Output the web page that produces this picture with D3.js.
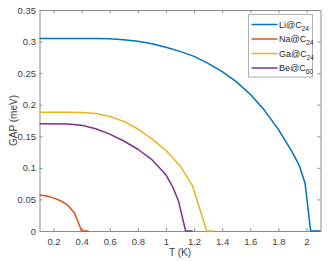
<!DOCTYPE html>
<html><head><meta charset="utf-8">
<script src="https://cdn.jsdelivr.net/npm/d3@7"></script>
<style>
html,body{margin:0;padding:0;background:#fff;}
text{font-family:"Liberation Sans",Arial,sans-serif;}
</style></head>
<body><svg id="c" width="328" height="261"></svg>
<script>
const names = ["Li@C", "Na@C", "Ga@C", "Be@C"];
const subs = ["24", "24", "24", "60"];
const colors = ["#0072BD", "#D95319", "#EDB120", "#7E2F8E"];
const liT = [0.1,0.2,0.3,0.4,0.5,0.6,0.7,0.8,0.9,1.0,1.1,1.2,1.3,1.4,1.5,1.6,1.7,1.8,1.9,1.95,1.99,2.03,2.1];
const liG = [0.305,0.305,0.305,0.305,0.305,0.3045,0.303,0.3005,0.2965,0.291,0.2845,0.2765,0.2655,0.2525,0.2365,0.2165,0.1915,0.161,0.1245,0.103,0.0755,0,0];
const naT = [0.1,0.15,0.2,0.25,0.3,0.35,0.4,0.45];
const naG = [0.057,0.0555,0.0525,0.048,0.041,0.028,0,0];
const gaT = [0.1,0.3,0.4,0.5,0.6,0.7,0.8,0.9,1.0,1.1,1.19,1.29,1.34];
const gaG = [0.188,0.188,0.1875,0.186,0.1815,0.1735,0.1615,0.146,0.1275,0.1035,0.071,0,0];
const beT = [0.1,0.3,0.4,0.5,0.6,0.7,0.8,0.9,1.0,1.05,1.09,1.14,1.19];
const beG = [0.17,0.1695,0.1675,0.162,0.1535,0.1425,0.1295,0.113,0.089,0.069,0.047,0,0];
const xTicks = [0.2,0.4,0.6,0.8,1,1.2,1.4,1.6,1.8,2];
const yTicks = [0,0.05,0.1,0.15,0.2,0.25,0.3,0.35];

const series = [[liT,liG],[naT,naG],[gaT,gaG],[beT,beG]];
const L=39.5, R=320.5, T=10, B=231;
const svg = d3.select("#c");
const x = d3.scaleLinear().domain([0.1,2.1]).range([L,R]);
const y = d3.scaleLinear().domain([0,0.35]).range([B,T]);
const fmt = d => String(+d.toFixed(2));

function style(g, hideLabels){
  g.select(".domain").attr("stroke","#8c8c8c").attr("stroke-width",1);
  g.selectAll(".tick line").attr("stroke","#8c8c8c");
  g.selectAll(".tick text").attr("fill","#404040").style("font-size","9.5px").style("font-family","'Liberation Sans',Arial,sans-serif");
  if(hideLabels) g.selectAll(".tick text").remove();
}
style(svg.append("g").attr("transform",`translate(0,${B})`).call(d3.axisBottom(x).tickValues(xTicks).tickSizeInner(-3).tickSizeOuter(0).tickPadding(7).tickFormat(fmt)));
style(svg.append("g").attr("transform",`translate(0,${T})`).call(d3.axisTop(x).tickValues(xTicks).tickSizeInner(-3).tickSizeOuter(0)), true);
style(svg.append("g").attr("transform",`translate(${L},0)`).call(d3.axisLeft(y).tickValues(yTicks).tickSizeInner(-3).tickSizeOuter(0).tickPadding(3.5).tickFormat(fmt)));
style(svg.append("g").attr("transform",`translate(${R},0)`).call(d3.axisRight(y).tickValues(yTicks).tickSizeInner(-3).tickSizeOuter(0)), true);

const line = d3.line().x(d=>x(d[0])).y(d=>y(d[1]));
series.forEach((s,i)=>{
  const pts = s[0].map((t,j)=>[t,s[1][j]]);
  svg.append("path").datum(pts).attr("d",line).attr("fill","none")
    .attr("stroke",colors[i]).attr("stroke-width",1.5).attr("stroke-linejoin","round");
});

svg.append("text").attr("x",x(1.1)).attr("y",256).attr("text-anchor","middle")
  .attr("fill","#404040").style("font-size","10px").text("T (K)");
svg.append("text").attr("transform",`translate(16.5,${(T+B)/2}) rotate(-90)`).attr("text-anchor","middle")
  .attr("fill","#404040").style("font-size","10px").text("GAP (meV)");

// legend
const lg = svg.append("g");
lg.append("rect").attr("x",248.5).attr("y",14.5).attr("width",64).attr("height",62.5)
  .attr("fill","#fff").attr("stroke","#b0b0b0").attr("stroke-width",1);
names.forEach((n,i)=>{
  const yy = 24.5 + i*14.5;
  lg.append("line").attr("x1",251.5).attr("x2",277.5).attr("y1",yy).attr("y2",yy)
    .attr("stroke",colors[i]).attr("stroke-width",1.5);
  const t = lg.append("text").attr("x",279).attr("y",yy+3).attr("fill","#262626").style("font-size","9px");
  t.append("tspan").text(n);
  t.append("tspan").attr("dy",3).style("font-size","6.5px").text(subs[i]);
});
</script></body></html>
